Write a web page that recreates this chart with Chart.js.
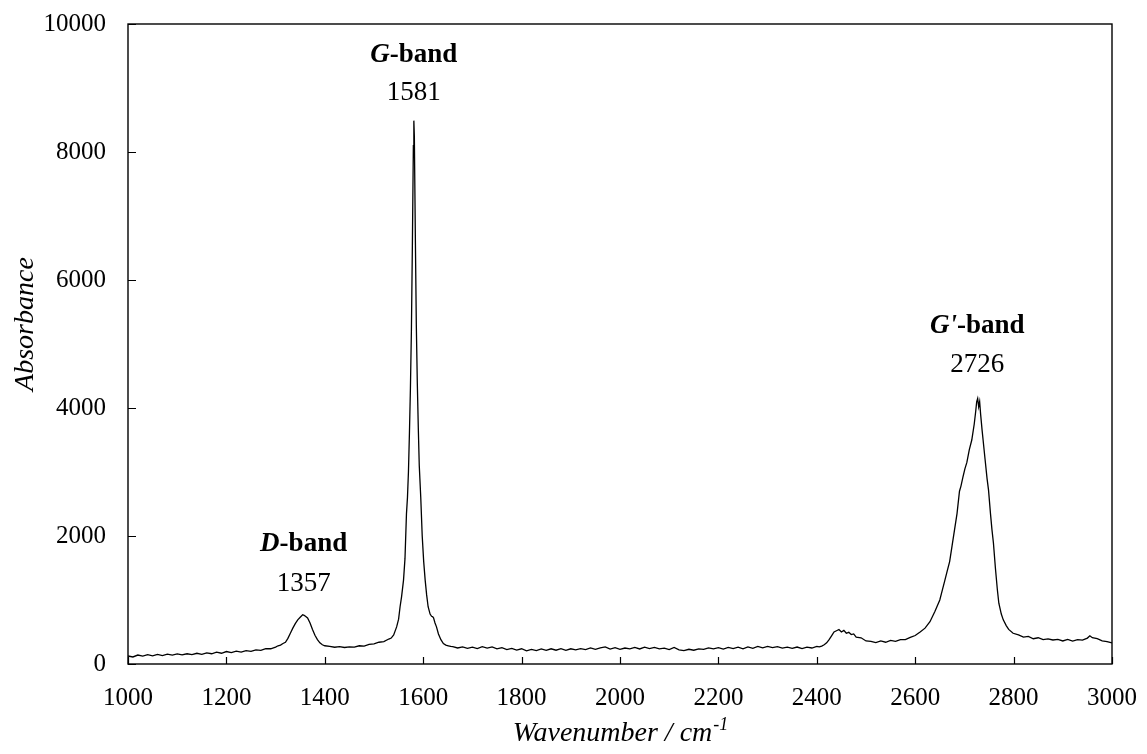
<!DOCTYPE html>
<html>
<head>
<meta charset="utf-8">
<script src="https://cdn.jsdelivr.net/npm/chart.js@4/dist/chart.umd.min.js"></script>
<style>
  html, body { margin: 0; padding: 0; background: #fff; }
  #wrap { width: 1147px; height: 754px; }
</style>
</head>
<body>
<div id="wrap"><canvas id="spectrum"></canvas></div>
<script>
// Raman spectrum
const wavenumber = [
  1000, 1010, 1020, 1030, 1040, 1050, 1060, 1070, 1080, 1090,
  1100, 1110, 1120, 1130, 1140, 1150, 1160, 1170, 1180, 1190,
  1200, 1210, 1220, 1230, 1240, 1250, 1260, 1270, 1280, 1290,
  1300, 1305, 1310, 1315, 1320, 1325, 1330, 1335, 1340, 1345,
  1350, 1355, 1358, 1360, 1365, 1370, 1375, 1380, 1385, 1390,
  1395, 1400, 1410, 1420, 1430, 1440, 1450, 1460, 1470, 1480,
  1490, 1500, 1510, 1520, 1530, 1535, 1540, 1546, 1550, 1553,
  1556, 1560, 1563, 1566, 1568, 1570, 1572, 1574, 1576, 1578,
  1580, 1581, 1582, 1584, 1586, 1588, 1590, 1592, 1595, 1598,
  1601, 1604, 1607, 1610, 1614, 1617, 1619, 1621, 1624, 1627,
  1631, 1636, 1641, 1646, 1651, 1656, 1660, 1670, 1680, 1690,
  1700, 1710, 1720, 1730, 1740, 1750, 1760, 1770, 1780, 1790,
  1800, 1810, 1820, 1830, 1840, 1850, 1860, 1870, 1880, 1890,
  1900, 1910, 1920, 1930, 1940, 1950, 1960, 1970, 1980, 1990,
  2000, 2010, 2020, 2030, 2040, 2050, 2060, 2070, 2080, 2090,
  2100, 2110, 2120, 2130, 2140, 2150, 2160, 2170, 2180, 2190,
  2200, 2210, 2220, 2230, 2240, 2250, 2260, 2270, 2280, 2290,
  2300, 2310, 2320, 2330, 2340, 2350, 2360, 2370, 2380, 2390,
  2400, 2405, 2410, 2415, 2420, 2425, 2430, 2435, 2440, 2445,
  2450, 2455, 2460, 2465, 2470, 2475, 2480, 2490, 2500, 2510,
  2520, 2530, 2540, 2550, 2560, 2570, 2580, 2590, 2600, 2610,
  2620, 2630, 2640, 2650, 2655, 2660, 2665, 2670, 2675, 2680,
  2685, 2690, 2693, 2697, 2701, 2705, 2710, 2715, 2720, 2723,
  2725, 2727, 2729, 2731, 2733, 2736, 2738, 2742, 2746, 2749,
  2753, 2756, 2759, 2763, 2767, 2770, 2775, 2779, 2785, 2790,
  2799, 2810, 2820, 2830, 2840, 2850, 2860, 2870, 2880, 2890,
  2900, 2910, 2920, 2930, 2940, 2950, 2955, 2960, 2970, 2980,
  2990, 3000
];
const absorbance = [
  125, 110, 140, 122, 145, 128, 150, 132, 155, 140,
  158, 142, 160, 148, 168, 152, 175, 160, 185, 168,
  195, 178, 200, 186, 210, 198, 220, 212, 240, 238,
  265, 285, 295, 320, 340, 400, 480, 560, 630, 690,
  730, 770, 760, 750, 720, 640, 540, 450, 380, 330,
  300, 285, 275, 262, 270, 258, 268, 265, 285, 278,
  305, 315, 340, 350, 390, 405, 455, 580, 700, 895,
  1050, 1310, 1650, 2350, 2600, 3000, 3600, 4300, 5200, 6540,
  8100, 8490, 8250, 6700, 5300, 4400, 3700, 3100, 2610, 2000,
  1600, 1310, 1080, 895, 780, 745, 740, 720, 640, 580,
  470, 380, 320, 295, 285, 275, 270, 250, 268, 245,
  262, 240, 270, 248, 266, 238, 255, 225, 245, 218,
  238, 205, 228, 210, 235, 212, 238, 215, 240, 212,
  238, 222, 240, 225, 250, 228, 252, 268, 232, 256,
  230, 250, 238, 258, 235, 262, 240, 260, 236, 248,
  225, 258, 222, 208, 230, 215, 235, 228, 252, 236,
  255, 232, 258, 240, 262, 236, 268, 245, 275, 252,
  275, 255, 270, 248, 262, 245, 265, 240, 262, 250,
  275, 268, 280, 300, 330, 380, 440, 500, 520, 540,
  500, 525, 480, 495, 460, 470, 420, 410, 360, 355,
  335, 360, 340, 368, 355, 382, 380, 415, 445, 500,
  560, 660, 820, 1000, 1150, 1300, 1450, 1600, 1850, 2100,
  2350, 2700, 2780, 2920, 3050, 3150, 3350, 3500, 3750, 3950,
  4100, 4150, 4020, 4100, 3900, 3650, 3500, 3200, 2900, 2720,
  2350, 2100, 1890, 1500, 1160, 950, 780, 690, 600, 540,
  480, 455, 420, 430, 395, 410, 380, 392, 375, 385,
  360, 385, 358, 380, 372, 405, 440, 410, 395, 360,
  350, 330
];

// band labels
const bandLetters = ['D', 'G', "G'"];
const bandCentres = [1357, 1581, 2726];

const xTicks = [1000, 1200, 1400, 1600, 1800, 2000, 2200, 2400, 2600, 2800, 3000];
const yTicks = [0, 2000, 4000, 6000, 8000, 10000];

const serif = '"Liberation Serif", "Times New Roman", serif';

// where the two label lines sit (absorbance units, name / number)
const labelHeights = [[1766, 1140], [9406, 8812], [5172, 4562]];

const points = wavenumber.map((w, i) => ({ x: w, y: absorbance[i] }));

// Box around the plot, inward ticks, band names and axis titles
const decorations = {
  id: 'decorations',
  afterDraw(chart) {
    const { ctx, chartArea: area, scales: { x, y } } = chart;
    ctx.save();
    ctx.strokeStyle = '#000';
    ctx.lineWidth = 1.4;
    ctx.strokeRect(area.left, area.top, area.right - area.left, area.bottom - area.top);

    ctx.lineWidth = 1.2;
    ctx.beginPath();
    xTicks.forEach(t => {
      const px = Math.round(x.getPixelForValue(t)) + 0.5;
      ctx.moveTo(px, area.bottom);
      ctx.lineTo(px, area.bottom - 7);
    });
    yTicks.forEach(t => {
      const py = Math.round(y.getPixelForValue(t)) + 0.5;
      ctx.moveTo(area.left, py);
      ctx.lineTo(area.left + 8, py);
    });
    ctx.stroke();

    ctx.fillStyle = '#000';
    ctx.textBaseline = 'alphabetic';
    bandLetters.forEach((letter, i) => {
      const cx = x.getPixelForValue(bandCentres[i]);
      const nameY = y.getPixelForValue(labelHeights[i][0]);
      const numY = y.getPixelForValue(labelHeights[i][1]);
      ctx.font = 'italic bold 27px ' + serif;
      const w1 = ctx.measureText(letter).width;
      ctx.font = 'bold 27px ' + serif;
      const w2 = ctx.measureText('-band').width;
      let left = cx - (w1 + w2) / 2;
      ctx.textAlign = 'left';
      ctx.font = 'italic bold 27px ' + serif;
      ctx.fillText(letter, left, nameY);
      ctx.font = 'bold 27px ' + serif;
      ctx.fillText('-band', left + w1, nameY);
      ctx.font = '27px ' + serif;
      ctx.textAlign = 'center';
      ctx.fillText(String(bandCentres[i]), cx, numY);
    });

    // x title with superscript
    ctx.textAlign = 'left';
    ctx.font = 'italic 28px ' + serif;
    const main = 'Wavenumber / cm';
    const wMain = ctx.measureText(main).width;
    ctx.font = 'italic 18px ' + serif;
    const wSup = ctx.measureText('-1').width;
    const startX = (area.left + area.right) / 2 - (wMain + wSup) / 2;
    ctx.font = 'italic 28px ' + serif;
    ctx.fillText(main, startX, 741);
    ctx.font = 'italic 18px ' + serif;
    ctx.fillText('-1', startX + wMain + 1, 730);

    // y title
    ctx.translate(33, 324);
    ctx.rotate(-Math.PI / 2);
    ctx.textAlign = 'center';
    ctx.font = 'italic 28px ' + serif;
    ctx.fillText('Absorbance', 0, 0);
    ctx.restore();
  }
};

const myChart = new Chart(document.getElementById('spectrum'), {
  type: 'line',
  data: {
    datasets: [{
      data: points,
      borderColor: '#000',
      borderWidth: 1.3,
      pointRadius: 0,
      tension: 0,
      fill: false
    }]
  },
  options: {
    responsive: true,
    maintainAspectRatio: false,
    animation: false,
    layout: { padding: { top: 24, right: 35, left: 0, bottom: 0 } },
    plugins: { legend: { display: false }, tooltip: { enabled: false } },
    scales: {
      x: {
        type: 'linear',
        min: 1000,
        max: 3000,
        afterFit: s => { s.height = 90; s.paddingLeft = 0; s.paddingRight = 0; },
        afterBuildTicks: s => { s.ticks = xTicks.map(v => ({ value: v })); },
        grid: { display: false, drawTicks: false },
        border: { display: false },
        ticks: { color: '#000', padding: 19, maxRotation: 0, callback: v => String(v), font: { family: serif, size: 25 } }
      },
      y: {
        min: 0,
        max: 10000,
        afterFit: s => { s.width = 128; s.paddingTop = 0; s.paddingBottom = 0; },
        afterBuildTicks: s => { s.ticks = yTicks.map(v => ({ value: v })); },
        grid: { display: false, drawTicks: false },
        border: { display: false },
        ticks: { color: '#000', padding: 22, callback: v => String(v), font: { family: serif, size: 25 } }
      }
    }
  },
  plugins: [decorations]
});
</script>
</body>
</html>
